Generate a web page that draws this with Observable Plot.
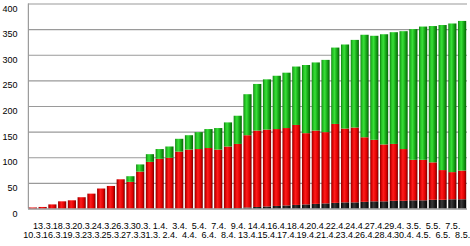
<!DOCTYPE html>
<html><head><meta charset="utf-8">
<script src="https://cdn.jsdelivr.net/npm/d3@7"></script>
<script src="https://cdn.jsdelivr.net/npm/@observablehq/plot@0.6"></script>
<style>body{margin:0;background:#fff;}</style>
</head><body><div id="chart"></div>
<script>
const dates = ["10.3.","13.3.","16.3.","18.3.","19.3.","20.3.","23.3.","24.3.","25.3.","26.3.","27.3.","30.3.","31.3.","1.4.","2.4.","3.4.","4.4.","5.4.","6.4.","7.4.","8.4.","9.4.","13.4.","14.4.","15.4.","16.4.","17.4.","18.4.","19.4.","20.4.","21.4.","22.4.","23.4.","24.4.","26.4.","27.4.","28.4.","29.4.","30.4.","3.5.","4.5.","5.5.","6.5.","7.5.","8.5."];
const lowerSeries = [0,0,0,0,0,0,0,0,0,0,0,0,0,0,0,0,0,0,0,0,1,1,2,3,4,5,6,7,8,9,10,11,12,12,13,14,14,15,15,16,16,17,17,18,18];
const middleSeries = [2,3,8,14,16,22,29,39,44,57,52,72,91,97,99,111,115,116,118,115,120,125,141,149,150,150,151,156,139,143,139,154,144,146,126,120,111,111,101,79,79,73,58,53,56];
const upperSeries = [0,0,0,0,0,0,0,0,0,0,11,14,15,19,22,25,28,33,37,42,47,55,80,91,98,104,108,114,133,133,141,149,164,171,200,203,215,218,230,255,260,266,283,290,292];
const yTicks = [0,50,100,150,200,250,300,350,400];
const seriesNames = ["lower", "middle", "upper"];
const seriesValues = {lower: lowerSeries, middle: middleSeries, upper: upperSeries};

const data = dates.flatMap((d, i) => seriesNames.map(s => ({date: d, series: s, value: seriesValues[s][i]})));

const chart = Plot.plot({
  width: 470, height: 246,
  marginLeft: 28, marginRight: 3, marginTop: 3.5, marginBottom: 37.5,
  style: {fontFamily: "'Liberation Sans', Arial, sans-serif", fontSize: "9px", color: "#000", background: "#fff"},
  x: {domain: dates, padding: 0, axis: null, label: null},
  y: {domain: [0, 400], axis: null, label: null},
  color: {type: "ordinal", domain: seriesNames, range: ["url(#cylBlack)", "url(#cylRed)", "url(#cylGreen)"]},
  marks: [
    Plot.gridY(yTicks, {stroke: "#9a9a9a", strokeOpacity: 1, strokeWidth: 1.2}),
    Plot.ruleX([dates[0]], {stroke: "#9a9a9a", strokeWidth: 1.2, dx: -5}),
    Plot.axisY(yTicks, {tickSize: 0, tickPadding: 11, dy: 4.7, label: null, fill: "#000"}),
    Plot.axisX(dates.filter((d, i) => i % 2 === 1), {tickSize: 0, tickPadding: 14, label: null, fill: "#000"}),
    Plot.axisX(dates.filter((d, i) => i % 2 === 0), {tickSize: 0, tickPadding: 23, label: null, fill: "#000"}),
    Plot.barY(data, {x: "date", y: "value", fill: "series", order: seriesNames, insetLeft: 0.8, insetRight: 0.8}),
    Plot.ruleY([0], {stroke: "#9a9a9a", strokeWidth: 1.2})
  ]
});

const svg = d3.select(chart);
const defs = svg.insert("defs", ":first-child");
function grad(id, stops) {
  const g = defs.append("linearGradient").attr("id", id).attr("x1", "0").attr("x2", "1").attr("y1", "0").attr("y2", "0");
  stops.forEach(([o, c]) => g.append("stop").attr("offset", o).attr("stop-color", c));
}
grad("cylRed", [[0, "#8a0000"], [0.15, "#d00000"], [0.4, "#ff1c1c"], [0.75, "#e00000"], [1, "#760000"]]);
grad("cylGreen", [[0, "#0b7a0b"], [0.15, "#22b822"], [0.4, "#38e038"], [0.7, "#17a617"], [1, "#066406"]]);
grad("cylBlack", [[0, "#000"], [0.4, "#3a3a3a"], [1, "#000"]]);

document.getElementById("chart").appendChild(chart);
</script>
</body></html>
